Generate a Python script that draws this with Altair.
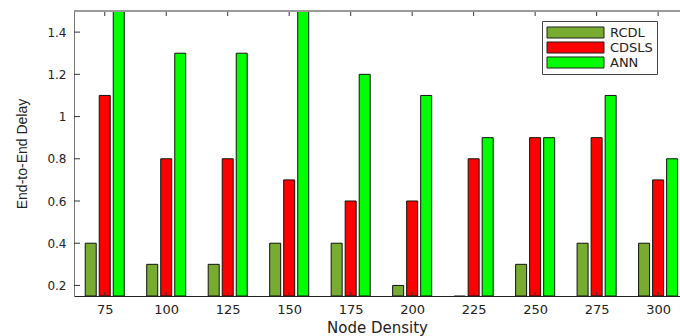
import altair as alt
import pandas as pd

# ---- data ----
density = [75, 100, 125, 150, 175, 200, 225, 250, 275, 300]
rcdl = [0.4, 0.3, 0.3, 0.4, 0.4, 0.2, 0.1, 0.3, 0.4, 0.4]
cdsls = [1.1, 0.8, 0.8, 0.7, 0.6, 0.6, 0.8, 0.9, 0.9, 0.7]
ann = [1.5, 1.3, 1.3, 1.5, 1.2, 1.1, 0.9, 0.9, 1.1, 0.8]
series = ["RCDL", "CDSLS", "ANN"]
y_ticks = [0.2, 0.4, 0.6, 0.8, 1.0, 1.2, 1.4]

# ---- styles ----
colors = ["#77AC30", "#FF0000", "#00FF00"]
group_offset = {"RCDL": -5.7, "CDSLS": 0.0, "ANN": 5.7}  # in x-data units

rows = []
for s, vals in zip(series, [rcdl, cdsls, ann]):
    for d, v in zip(density, vals):
        rows.append({"density": d, "series": s, "value": v})
df = pd.DataFrame(rows)
df["xpos"] = df["density"] + df["series"].map(group_offset)

W, H = 606, 285
xscale = alt.Scale(domain=[62.5, 308.9], nice=False, zero=False, padding=0)
yscale = alt.Scale(domain=[0.15, 1.5], nice=False, zero=False, padding=0)

bars = alt.Chart(df).mark_bar(size=11, stroke="#111111", strokeWidth=1, clip=True).encode(
    x=alt.X("xpos:Q", scale=xscale,
            axis=alt.Axis(values=density, title="Node Density", ticks=False,
                          labelFont="DejaVu Sans", labelFontSize=13, labelColor="#222222",
                          labelPadding=7, titleFont="DejaVu Sans", titleFontSize=15,
                          titleFontWeight="normal", titleColor="#222222", titlePadding=4,
                          domainColor="#222222", grid=False, format="d")),
    y=alt.Y("value:Q", scale=yscale,
            axis=alt.Axis(values=y_ticks, title="End-to-End Delay", ticks=False,
                          labelFont="DejaVu Sans", labelFontSize=12, labelColor="#222222",
                          labelPadding=8, titleFont="Liberation Sans", titleFontSize=14,
                          titleFontWeight="normal", titleColor="#222222", titlePadding=17,
                          domainColor="#777777", grid=False, format="~g")),
    y2=alt.datum(0.15),
    color=alt.Color("series:N", scale=alt.Scale(domain=series, range=colors),
                    legend=alt.Legend(title=None, orient="none", legendX=468, legendY=10,
                                      symbolType="M-4.75,-0.92H4.75V0.92H-4.75Z",
                                      symbolSize=144, symbolStrokeColor="#222222",
                                      symbolStrokeWidth=1, symbolOffset=23,
                                      labelOffset=28, labelFont="DejaVu Sans",
                                      labelFontSize=13, labelColor="#222222",
                                      labelExpr="datum.label + '\u00a0\u00a0\u00a0'",
                                      clipHeight=15, rowPadding=0, padding=4,
                                      strokeColor="#444444", fillColor="white")),
)

dens_df = pd.DataFrame({"density": density})
top_ticks = alt.Chart(dens_df).mark_rule(color="#333333").encode(
    x=alt.X("density:Q", scale=xscale), y=alt.value(0), y2=alt.value(5))
bot_ticks = alt.Chart(dens_df).mark_rule(color="#333333").encode(
    x=alt.X("density:Q", scale=xscale), y=alt.value(H), y2=alt.value(H - 4))
ytick_df = pd.DataFrame({"t": y_ticks})
left_ticks = alt.Chart(ytick_df).mark_rule(color="#333333").encode(
    y=alt.Y("t:Q", scale=yscale), x=alt.value(0), x2=alt.value(6))
top_border = alt.Chart(dens_df).mark_rule(color="#999999").encode(
    x=alt.value(0), x2=alt.value(W), y=alt.value(0))

chart = alt.layer(bars, top_ticks, bot_ticks, left_ticks, top_border).properties(
    width=W, height=H,
    padding={"left": 74, "top": 11, "right": 0, "bottom": 40},
    autosize=alt.AutoSizeParams(type="none"),
).configure_view(stroke=None).configure(background="white")

chart.save("out.html", embed_options={"renderer": "svg", "actions": False})
